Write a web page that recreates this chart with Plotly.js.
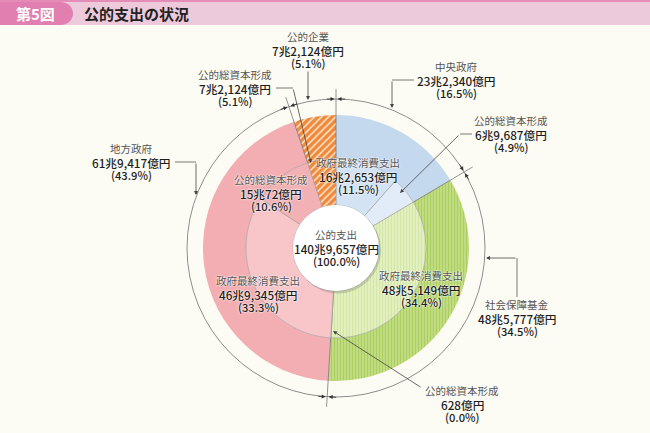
<!DOCTYPE html>
<html>
<head>
<meta charset="utf-8">
<script src="https://cdn.plot.ly/plotly-3.0.1.min.js"></script>
<style>
html,body{margin:0;padding:0;background:#fdfcf4;}
#chart{width:650px;height:433px;}
</style>
</head>
<body>
<div id="chart"></div>
<script>
// ---- data (億円) ----
const sectorNames = ['中央政府', '社会保障基金', '地方政府', '公的企業'];
const sectorValues = [232340, 485777, 619417, 72124];
const sectorPct = [16.5, 34.5, 43.9, 5.1];

const itemNames = ['政府最終消費支出', '公的総資本形成', '政府最終消費支出', '公的総資本形成', '政府最終消費支出', '公的総資本形成', '公的総資本形成'];
const itemSector = ['中央政府', '中央政府', '社会保障基金', '社会保障基金', '地方政府', '地方政府', '公的企業'];
const itemValues = [162653, 69687, 485149, 628, 469345, 150072, 72124];
const itemPct = [11.5, 4.9, 34.4, 0.0, 33.3, 10.6, 5.1];

const totalName = '公的支出';
const totalValue = 1409657;
const totalPct = 100.0;

const chartTitle = '公的支出の状況';
const figNo = '第5図';

// ---- geometry / style ----
const W = 650, H = 433;
const CX = 336, CY = 248;
const R_OUT = 133, R_MID = 90, R_IN = 43, R_RING = 149;
const FONT = '"Noto Sans CJK JP", "Noto Sans", sans-serif';
const px = x => x / W;
const py = y => 1 - y / H;
const P = (x, y) => px(x).toFixed(5) + ',' + py(y).toFixed(5);

function fmt(v) {
  const cho = Math.floor(v / 10000), oku = v % 10000;
  return (cho ? cho + '兆' : '') + oku.toLocaleString('en-US') + '億円';
}

const outerColors = ['#c4d8ee', '#bcd97c', '#f2aeb2', '#f0893a'];
const outerPatShape = ['', '|', '', '/'];
const outerPatBg = ['#c4d8ee', '#c3dd86', '#f2aeb2', '#f0893a'];
const outerPatFg = ['#c4d8ee', '#abcf5c', '#f2aeb2', '#fde6cf'];

const innerColors = ['#d3e3f4', '#e2ecf8', '#e3efc2', '#bcd97c', '#f8c6c9', '#f2b1b5', '#f0893a'];
const innerPatShape = ['', '', '|', '|', '', '', '/'];
const innerPatBg = ['#d3e3f4', '#e2ecf8', '#e4f0c4', '#c3dd86', '#f8c6c9', '#f2b1b5', '#f0893a'];
const innerPatFg = ['#d3e3f4', '#e2ecf8', '#d3e6a2', '#abcf5c', '#f8c6c9', '#f2b1b5', '#fde6cf'];

const traces = [
  {
    type: 'pie', labels: sectorNames, values: sectorValues, sort: false,
    direction: 'clockwise', rotation: 0, hole: R_MID / R_OUT,
    textinfo: 'none', hoverinfo: 'none', showlegend: false,
    domain: { x: [px(CX - R_OUT), px(CX + R_OUT)], y: [py(CY + R_OUT), py(CY - R_OUT)] },
    marker: {
      colors: outerColors, line: { width: 0 },
      pattern: { shape: outerPatShape, bgcolor: outerPatBg, fgcolor: outerPatFg, size: [4, 3, 4, 5], solidity: [0.3, 0.4, 0.3, 0.3], fillmode: 'replace' }
    }
  },
  {
    type: 'pie', labels: itemSector.map((s, i) => s + ' ' + itemNames[i]), values: itemValues, sort: false,
    direction: 'clockwise', rotation: 0, hole: R_IN / R_MID,
    textinfo: 'none', hoverinfo: 'none', showlegend: false,
    domain: { x: [px(CX - R_MID), px(CX + R_MID)], y: [py(CY + R_MID), py(CY - R_MID)] },
    marker: {
      colors: innerColors, line: { width: 0.6, color: '#9b9b9b' },
      pattern: { shape: innerPatShape, bgcolor: innerPatBg, fgcolor: innerPatFg, size: [4, 4, 3, 3, 4, 4, 5], solidity: [0.3, 0.3, 0.4, 0.4, 0.3, 0.3, 0.3], fillmode: 'replace' }
    }
  }
];

// ---- shapes ----
const shapes = [];
// header
shapes.push({ type: 'rect', xref: 'paper', yref: 'paper', x0: 0, x1: 1, y0: py(25), y1: py(2), fillcolor: '#edcadb', line: { width: 0 }, layer: 'below' });
shapes.push({ type: 'rect', xref: 'paper', yref: 'paper', x0: 0, x1: 1, y0: py(2), y1: 1, fillcolor: '#e48cb6', line: { width: 0 }, layer: 'below' });
shapes.push({ type: 'path', xref: 'paper', yref: 'paper', layer: 'below', fillcolor: '#e07fb0', line: { width: 0 },
  path: 'M' + P(0, 2) + ' L' + P(60, 2) + ' C' + P(69, 2) + ' ' + P(73, 8) + ' ' + P(73, 13.5) + ' C' + P(73, 19) + ' ' + P(69, 25) + ' ' + P(60, 25) + ' L' + P(0, 25) + ' Z' });

// outer thin ring
shapes.push({ type: 'circle', xref: 'paper', yref: 'paper', x0: px(CX - R_RING), x1: px(CX + R_RING), y0: py(CY + R_RING), y1: py(CY - R_RING), line: { color: '#8d8d8d', width: 1 }, layer: 'above' });

// sector boundary angles (from data)
const tot = sectorValues.reduce((a, b) => a + b, 0);
const bounds = [];
let acc = 0;
for (let i = 0; i < sectorValues.length; i++) { bounds.push(acc / tot * 360); acc += sectorValues[i]; }
const pt = (deg, r) => { const a = deg * Math.PI / 180; return [CX + r * Math.sin(a), CY - r * Math.cos(a)]; };

const annotations = [];
bounds.forEach(d => {
  const a = pt(d, R_MID), b = pt(d, R_RING + 10);
  shapes.push({ type: 'line', xref: 'paper', yref: 'paper', x0: px(a[0]), y0: py(a[1]), x1: px(b[0]), y1: py(b[1]), line: { color: '#777', width: 0.8 }, layer: 'above' });
  const p = pt(d, R_RING), rad = d * Math.PI / 180;
  const tx = Math.cos(rad), ty = Math.sin(rad);
  [-1, 1].forEach(s => {
    annotations.push({ xref: 'paper', yref: 'paper', x: px(p[0] + s * tx * 1.5), y: py(p[1] + s * ty * 1.5), text: '', showarrow: true,
      ax: s * tx * 9, ay: s * ty * 9, arrowhead: 2, arrowsize: 0.9, arrowwidth: 0.9, arrowcolor: '#333', standoff: 0 });
  });
});

// center circle
shapes.push({ type: 'circle', xref: 'paper', yref: 'paper', x0: px(CX - R_IN + 1.5), x1: px(CX + R_IN + 2), y0: py(CY + R_IN + 2.5), y1: py(CY - R_IN + 1.5), fillcolor: 'rgba(90,90,90,0.25)', line: { width: 0 }, layer: 'above' });
shapes.push({ type: 'circle', xref: 'paper', yref: 'paper', x0: px(CX - R_IN), x1: px(CX + R_IN), y0: py(CY + R_IN), y1: py(CY - R_IN), fillcolor: '#ffffff', line: { width: 0 }, layer: 'above' });

// callout polylines (leader segments before arrow)
function seg(x0, y0, x1, y1) {
  shapes.push({ type: 'line', xref: 'paper', yref: 'paper', x0: px(x0), y0: py(y0), x1: px(x1), y1: py(y1), line: { color: '#555', width: 0.8 }, layer: 'above' });
}
function arrow(tx, ty, fx, fy) {
  annotations.push({ xref: 'paper', yref: 'paper', x: px(tx), y: py(ty), text: '', showarrow: true, ax: fx - tx, ay: fy - ty,
    arrowhead: 2, arrowsize: 1, arrowwidth: 0.8, arrowcolor: '#444', standoff: 0 });
}
// 公的企業
arrow(308, 100, 308, 70);
// 公的総資本形成 (公的企業)
seg(276, 88, 293, 88); arrow(311, 163, 293, 88);
// 中央政府
seg(414, 80, 392, 80); arrow(392, 108, 392, 80);
// 中央政府 公的総資本形成
seg(472, 134, 460, 134); arrow(400, 193, 460, 134);
// 地方政府
seg(175, 162, 196, 162); arrow(196, 195, 196, 162);
// 社会保障基金
seg(517, 297, 517, 258); arrow(486, 258, 517, 258);
// 社会保障基金 公的総資本形成
arrow(333, 331, 422, 388);

// ---- labels (one annotation per line) ----
function line(x, y, txt, size, color, weight, halo) {
  const f = { family: FONT, size: size, color: color, weight: weight };
  if (halo) f.shadow = '0px 0px 2px #ffffff, 0px 0px 2px #ffffff';
  annotations.push({ xref: 'paper', yref: 'paper', x: px(x), y: py(y), xanchor: 'center', yanchor: 'middle', showarrow: false, text: txt, font: f });
}
function lab(x, y, name, v, pct, halo) {
  line(x, y - 13.2, name, 10.5, '#555', 400, halo);
  line(x, y, fmt(v), 11.7, '#1e1e1e', 500, halo);
  line(x, y + 13.2, '(' + pct.toFixed(1) + '%)', 11.2, '#1e1e1e', 500, halo);
}
lab(308, 50, sectorNames[3], sectorValues[3], sectorPct[3]);
lab(235, 88, itemNames[6], itemValues[6], itemPct[6]);
lab(456, 80, sectorNames[0], sectorValues[0], sectorPct[0]);
lab(511, 134, itemNames[1], itemValues[1], itemPct[1]);
lab(131, 162, sectorNames[2], sectorValues[2], sectorPct[2]);
lab(517, 318, sectorNames[1], sectorValues[1], sectorPct[1]);
lab(462, 404, itemNames[3], itemValues[3], itemPct[3]);
lab(358, 176, itemNames[0], itemValues[0], itemPct[0], true);
lab(271, 193, itemNames[5], itemValues[5], itemPct[5], true);
lab(258, 294, itemNames[4], itemValues[4], itemPct[4], true);
lab(421, 289, itemNames[2], itemValues[2], itemPct[2], true);
lab(336, 248, totalName, totalValue, totalPct);

// header texts
annotations.push({ xref: 'paper', yref: 'paper', x: px(35), y: py(13.5), xanchor: 'center', yanchor: 'middle', showarrow: false, text: '<b>' + figNo + '</b>', font: { family: FONT, size: 15, color: '#ffffff' } });
annotations.push({ xref: 'paper', yref: 'paper', x: px(82), y: py(13.5), xanchor: 'left', yanchor: 'middle', showarrow: false, text: '<b>' + chartTitle + '</b>', font: { family: FONT, size: 15, color: '#222' } });

const layout = {
  width: W, height: H, margin: { l: 0, r: 0, t: 0, b: 0 },
  paper_bgcolor: '#fdfcf4', plot_bgcolor: '#fdfcf4',
  showlegend: false, shapes: shapes, annotations: annotations,
  font: { family: FONT }
};
Plotly.newPlot('chart', traces, layout, { staticPlot: true, displayModeBar: false });
</script>
</body>
</html>
